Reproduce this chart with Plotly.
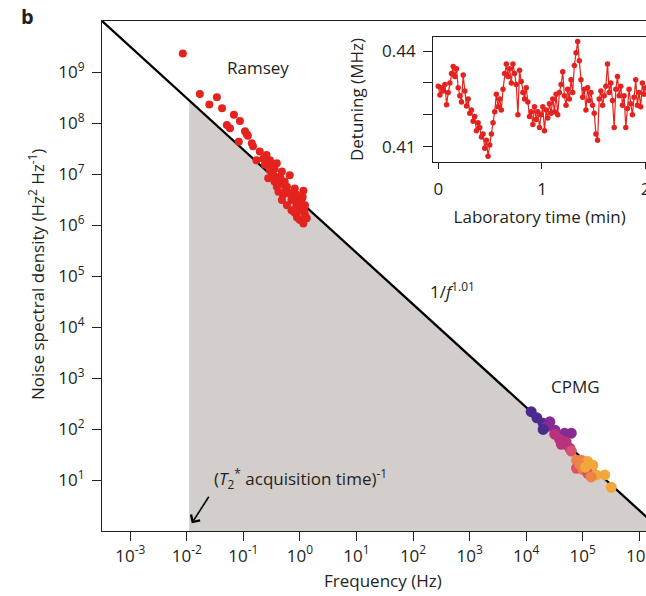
import plotly.graph_objects as go

# Ramsey noise spectrum (Hz, Hz^2/Hz)
ramsey_freq = [0.0085, 0.017, 0.034, 0.025, 0.042, 0.068, 0.087, 0.051, 0.058, 0.107,
               0.115, 0.12, 0.083, 0.148, 0.195, 0.257, 0.17, 0.295, 0.39, 0.24,
               0.295, 0.48, 0.66, 0.275, 0.34, 0.417, 0.537, 0.39, 0.59, 0.81,
               1.15, 0.417, 0.62, 0.50, 0.87, 0.48, 0.71, 1.07, 0.59, 0.87,
               1.23, 0.71, 1.07, 0.87, 1.23, 1.0, 1.15, 1.32, 0.355, 0.447,
               0.56, 0.76, 0.95, 1.0, 0.79, 1.12, 0.71, 0.5, 0.355, 1.2,
               0.89, 0.224, 0.316, 0.141]
ramsey_psd = [2.3e9, 3.7e8, 3.2e8, 2.3e8, 1.95e8, 1.45e8, 1.1e8, 9.1e7, 7.9e7, 6.9e7,
              6.0e7, 5.6e7, 4.3e7, 3.5e7, 2.75e7, 2.35e7, 1.86e7, 1.86e7, 1.62e7, 1.51e7,
              1.2e7, 1.12e7, 9.5e6, 8.3e6, 9.5e6, 7.6e6, 7.1e6, 5.6e6, 5.6e6, 5.2e6,
              4.7e6, 4.5e6, 4.2e6, 3.9e6, 3.9e6, 3.1e6, 3.1e6, 3.0e6, 2.45e6, 2.45e6,
              2.45e6, 1.95e6, 1.95e6, 1.58e6, 1.58e6, 1.26e6, 1.07e6, 1.35e6, 1.26e7, 8.9e6,
              5.0e6, 3.55e6, 2.8e6, 2.25e6, 1.78e6, 3.55e6, 4.2e6, 6.3e6, 7.1e6, 2.0e6,
              1.41e6, 2.0e7, 1.41e7, 4.0e7]

# CPMG noise spectrum, group = pulse-sequence set
cpmg_freq = [1.23e4, 1.55e4, 2.0e4, 2.63e4, 2.29e4, 2.0e4, 3.24e4, 4.8e4, 6.3e4, 3.9e4,
             5.1e4, 5.9e4, 6.3e4, 7.8e4, 9.5e4, 1.23e5, 1.51e5, 7.8e4, 1.02e5, 1.23e5,
             1.74e5, 2.45e5, 1.41e5, 3.2e5, 4.2e4, 8.9e4, 1.12e5, 3.2e4]
cpmg_psd = [219, 166, 129, 138, 112, 98, 95, 83, 83, 63,
            56, 42, 37, 24.5, 24.5, 23, 19.5, 17, 15.8, 13.5,
            12.6, 12.6, 11.5, 7.2, 50, 20, 17.8, 79]
cpmg_group = [0, 0, 0, 1, 1, 0, 1, 1, 1, 2,
              2, 2, 3, 4, 4, 5, 5, 3, 4, 3,
              5, 5, 4, 5, 2, 4, 5, 2]

# 1/f^alpha fit and T2* acquisition cutoff
fit_amp = 2.92e6
fit_alpha = 1.01
t2_cutoff = 0.011

x_ticks = [1e-3, 1e-2, 1e-1, 1e0, 1e1, 1e2, 1e3, 1e4, 1e5, 1e6]
x_ticktext = ["10<sup>-3</sup>", "10<sup>-2</sup>", "10<sup>-1</sup>", "10<sup>0</sup>",
              "10<sup>1</sup>", "10<sup>2</sup>", "10<sup>3</sup>", "10<sup>4</sup>",
              "10<sup>5</sup>", "10<sup>6</sup>"]
y_ticks = [1e1, 1e2, 1e3, 1e4, 1e5, 1e6, 1e7, 1e8, 1e9]
y_ticktext = ["10<sup>%d</sup>" % k for k in range(1, 10)]

# inset: detuning vs laboratory time
lab_time = [0.000, 0.016, 0.032, 0.048, 0.064, 0.080, 0.096, 0.112, 0.128, 0.144,
            0.160, 0.176, 0.192, 0.208, 0.224, 0.240, 0.256, 0.272, 0.288, 0.304,
            0.320, 0.336, 0.352, 0.368, 0.384, 0.400, 0.416, 0.432, 0.448, 0.464,
            0.480, 0.496, 0.512, 0.528, 0.544, 0.560, 0.576, 0.592, 0.608, 0.624,
            0.640, 0.656, 0.672, 0.688, 0.704, 0.720, 0.736, 0.752, 0.768, 0.784,
            0.800, 0.816, 0.832, 0.848, 0.864, 0.880, 0.896, 0.912, 0.928, 0.944,
            0.960, 0.976, 0.992, 1.008, 1.024, 1.040, 1.056, 1.072, 1.088, 1.104,
            1.120, 1.136, 1.152, 1.168, 1.184, 1.200, 1.216, 1.232, 1.248, 1.264,
            1.280, 1.296, 1.312, 1.328, 1.344, 1.360, 1.376, 1.392, 1.408, 1.424,
            1.440, 1.456, 1.472, 1.488, 1.504, 1.520, 1.536, 1.552, 1.568, 1.584,
            1.600, 1.616, 1.632, 1.648, 1.664, 1.680, 1.696, 1.712, 1.728, 1.744,
            1.760, 1.776, 1.792, 1.808, 1.824, 1.840, 1.856, 1.872, 1.888, 1.904,
            1.920, 1.936, 1.952, 1.968, 1.984, 2.000]
detuning = [0.4290, 0.4262, 0.4285, 0.4275, 0.4295, 0.4232, 0.4270, 0.4300, 0.4330, 0.4352,
            0.4320, 0.4345, 0.4285, 0.4260, 0.4240, 0.4325, 0.4275, 0.4228, 0.4250, 0.4205,
            0.4215, 0.4180, 0.4195, 0.4150, 0.4175, 0.4160, 0.4130, 0.4140, 0.4095, 0.4120,
            0.4070, 0.4105, 0.4140, 0.4175, 0.4210, 0.4265, 0.4225, 0.4250, 0.4215, 0.4280,
            0.4330, 0.4360, 0.4320, 0.4345, 0.4300, 0.4360, 0.4330, 0.4295, 0.4200, 0.4340,
            0.4305, 0.4270, 0.4250, 0.4285, 0.4240, 0.4195, 0.4210, 0.4170, 0.4225, 0.4185,
            0.4210, 0.4160, 0.4200, 0.4225, 0.4150, 0.4215, 0.4190, 0.4235, 0.4205, 0.4250,
            0.4210, 0.4265, 0.4200, 0.4270, 0.4295, 0.4335, 0.4260, 0.4230, 0.4280, 0.4250,
            0.4310, 0.4270, 0.4355, 0.4395, 0.4430, 0.4370, 0.4310, 0.4255, 0.4280, 0.4215,
            0.4285, 0.4245, 0.4270, 0.4230, 0.4205, 0.4140, 0.4120, 0.4250, 0.4275, 0.4230,
            0.4260, 0.4290, 0.4360, 0.4270, 0.4300, 0.4245, 0.4160, 0.4280, 0.4320, 0.4260,
            0.4290, 0.4230, 0.4260, 0.4160, 0.4220, 0.4280, 0.4235, 0.4200, 0.4255, 0.4310,
            0.4230, 0.4270, 0.4225, 0.4300, 0.4265, 0.4285]

FONT = "Open Sans"
FS = 17
INK = "#231f20"
RED = "#e4231f"
GROUP_COLORS = ["#4b2a8f", "#862b91", "#b8327f", "#d9536b", "#ec8448", "#f3a63b"]


def fit(f):
    return fit_amp * f ** (-fit_alpha)


fig = go.Figure()

# shaded area under the fit, above the acquisition-time cutoff
f_hi = 1e8
fig.add_trace(go.Scatter(
    x=[t2_cutoff, t2_cutoff, f_hi, f_hi],
    y=[1e-2, fit(t2_cutoff), fit(f_hi), 1e-2],
    fill="toself", fillcolor="#d3cdcb", mode="lines", line=dict(width=0),
    hoverinfo="skip", showlegend=False,
))

f_lo = 1e-4
fig.add_trace(go.Scatter(
    x=[f_lo, f_hi], y=[fit(f_lo), fit(f_hi)],
    mode="lines", line=dict(color="black", width=2.3), showlegend=False,
))

fig.add_trace(go.Scatter(
    x=ramsey_freq, y=ramsey_psd, mode="markers",
    marker=dict(color=RED, size=8, line=dict(width=0)), showlegend=False,
))

fig.add_trace(go.Scatter(
    x=cpmg_freq, y=cpmg_psd, mode="markers",
    marker=dict(color=[GROUP_COLORS[g] for g in cpmg_group], size=11, line=dict(width=0)),
    showlegend=False,
))

fig.add_trace(go.Scatter(
    x=lab_time, y=detuning, mode="lines+markers", xaxis="x2", yaxis="y2",
    line=dict(color=RED, width=1.2), marker=dict(color=RED, size=5.5),
    showlegend=False,
))

axis_common = dict(
    showline=True, linecolor=INK, linewidth=1.3, showgrid=False, zeroline=False,
    ticks="outside", tickcolor=INK, tickwidth=1.3, ticklabeloverflow="allow",
    automargin=False, tickfont=dict(family=FONT, size=FS, color=INK),
)
title_font = dict(family=FONT, size=FS, color=INK)

fig.update_layout(
    width=646, height=596,
    margin=dict(l=102, r=0, t=21, b=65),
    paper_bgcolor="white", plot_bgcolor="white",
    font=dict(family=FONT, color=INK),
    xaxis=dict(type="log", range=[-3.5, 6.12], tickvals=x_ticks, ticktext=x_ticktext,
               ticklen=9, mirror=True, **axis_common),
    yaxis=dict(type="log", range=[0, 10], tickvals=y_ticks, ticktext=y_ticktext,
               ticklen=9, ticklabelstandoff=4, **axis_common),
    xaxis2=dict(domain=[0.609, 1.0], anchor="y2", range=[-0.048, 2.003],
                tickvals=[0, 1, 2], ticklen=6, mirror=True, ticklabelstandoff=5,
                title=dict(text="Laboratory time (min)", standoff=12, font=title_font),
                **axis_common),
    yaxis2=dict(domain=[0.723, 0.969], anchor="x2", range=[0.4051, 0.4445],
                tickvals=[0.41, 0.42, 0.43, 0.44], ticktext=["0.41", "", "", "0.44"],
                ticklen=9, ticklabelstandoff=4,
                title=dict(text="Detuning (MHz)", standoff=14, font=title_font),
                **axis_common),
)


def px_to_paper(px, py):
    return (px - 102) / 544, (531 - py) / 510


def label(text, px, py, size=FS, **kw):
    xp, yp = px_to_paper(px, py)
    fig.add_annotation(text=text, x=xp, y=yp, xref="paper", yref="paper",
                       showarrow=False, xanchor="center", yanchor="middle",
                       font=dict(family=FONT, size=size, color=INK), **kw)


label("<b>b</b>", 27, 16, size=20)
label("Noise spectral density (Hz<sup>2</sup> Hz<sup>-1</sup>)", 36, 275, textangle=-90)
label("Frequency (Hz)", 383, 580)
label("Ramsey", 258, 67)
label("CPMG", 575, 386)
label("1/<i>f</i><sup>1.01</sup>", 452, 290)
label("(<i>T</i><sub>2</sub><sup>*</sup> acquisition time)<sup>-1</sup>", 300, 478)

# arrow pointing at the cutoff frequency
fig.add_annotation(x=-1.913, y=0.151, xref="x", yref="y", text="",
                   showarrow=True, ax=18, ay=-28, arrowhead=4, arrowsize=1.3,
                   arrowwidth=1.6, arrowcolor="black")

fig.write_html("out.html", config={"displayModeBar": False},
               post_script="document.body.style.margin='0';")
